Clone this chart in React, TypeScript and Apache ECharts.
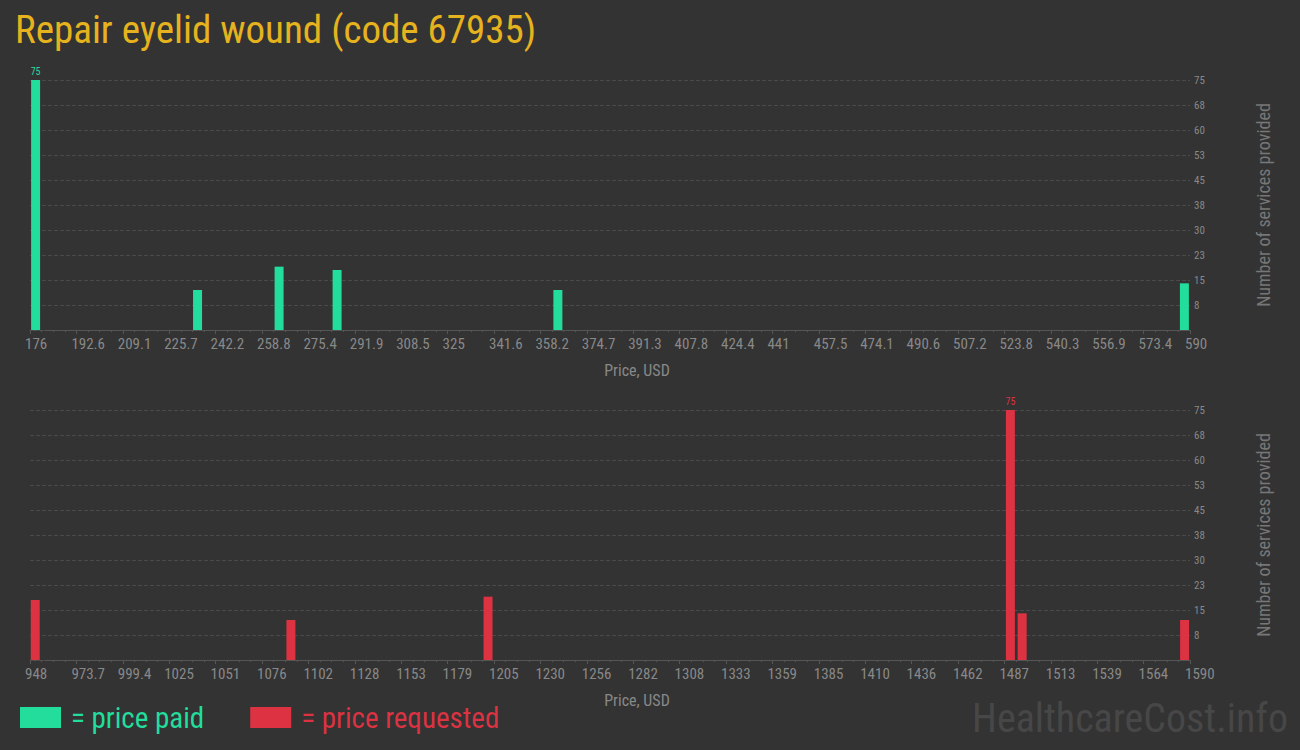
import React, { useEffect, useRef } from "react";
import * as echarts from "echarts";

const TITLE = "Repair eyelid wound (code 67935)";
const PAID_MIN = 176;
const PAID_MAX = 590;
const REQ_MIN = 948;
const REQ_MAX = 1590;
const TICK_COUNT = 25;
const Y_MAX = 75;
const Y_STEP = 7.5;

const paidPrices = [178, 235.8, 264.9, 285.6, 364.4, 588];
const paidCounts = [75, 12, 19, 18, 12, 14];
const requestedPrices = [950.9, 1092.4, 1201.5, 1490.6, 1497.1, 1587];
const requestedCounts = [18, 12, 19, 75, 14, 12];

const GREEN = "#22dd9b";
const RED = "#dc3242";
const FONT = "'Roboto Condensed', 'DejaVu Sans Condensed', 'Liberation Sans Narrow', Roboto, sans-serif";

function fmt(v: number) {
  return String(Number(v.toPrecision(4)));
}

function makeX(gridIndex: number, lo: number, hi: number) {
  return {
    gridIndex,
    type: "value",
    min: 0,
    max: hi - lo,
    interval: (hi - lo) / TICK_COUNT,
    axisLine: { show: true, lineStyle: { color: "#555" } },
    axisTick: { show: true, length: 4, lineStyle: { color: "#555" } },
    minorTick: { show: true, splitNumber: 4, length: 2, lineStyle: { color: "#555" } },
    splitLine: { show: false },
    axisLabel: {
      formatter: (v: number) => fmt(v + lo),
      color: "#888",
      fontSize: 15,
      fontFamily: FONT,
      align: "left",
      padding: [0, 0, 0, -5],
      margin: 6,
      showMaxLabel: true,
      showMinLabel: true,
      hideOverlap: false,
    },
    name: "Price, USD",
    nameLocation: "middle",
    nameGap: 32,
    nameTextStyle: { color: "#888", fontSize: 16, fontFamily: FONT, padding: [0, 0, 0, 54] },
  };
}

function makeY(gridIndex: number) {
  return {
    gridIndex,
    type: "value",
    position: "right",
    min: 0,
    max: Y_MAX,
    interval: Y_STEP,
    axisLine: { show: false },
    axisTick: { show: true, length: 15, lineStyle: { color: "#4a4a4a", type: "dashed" } },
    splitLine: { show: true, lineStyle: { color: "#4a4a4a", type: "dashed" } },
    axisLabel: {
      formatter: (v: number) => (v === 0 ? "" : String(Math.round(v))),
      color: "#888",
      fontSize: 11,
      fontFamily: FONT,
      margin: 4,
    },
    name: "Number of services provided",
    nameLocation: "middle",
    nameGap: 64,
    nameTextStyle: { color: "#777", fontSize: 18, fontFamily: FONT },
  };
}

function makeData(prices: number[], counts: number[], lo: number, color: string) {
  const maxC = Math.max(...counts);
  return prices.map((p, i) => ({
    value: [p - lo, counts[i]],
    label: {
      show: counts[i] === maxC,
      position: "top",
      distance: 4,
      color,
      fontSize: 10,
      fontFamily: FONT,
      formatter: () => String(counts[i]),
    },
  }));
}

export default function App() {
  const ref = useRef<HTMLDivElement>(null);
  useEffect(() => {
    if (!ref.current) return;
    const chart = echarts.init(ref.current, null, { renderer: "svg" });
    chart.setOption({
      animation: false,
      backgroundColor: "#333333",
      title: {
        text: TITLE,
        left: 10,
        top: 5,
        textStyle: { color: "#e6b31e", fontSize: 39, fontWeight: "normal", fontFamily: FONT },
      },
      legend: {
        left: 20,
        top: 703,
        padding: 0,
        itemWidth: 41,
        itemHeight: 21,
        itemGap: 46,
        icon: "rect",
        formatter: (n: string) => "= " + n,
        data: [
          { name: "price paid", textStyle: { color: GREEN } },
          { name: "price requested", textStyle: { color: RED } },
        ],
        textStyle: { fontSize: 29, fontFamily: FONT, padding: [0, 0, 0, 5] },
        selectedMode: false,
      },
      grid: [
        { left: 30, right: 110, top: 80, height: 250 },
        { left: 30, right: 110, top: 410, height: 250 },
      ],
      xAxis: [makeX(0, PAID_MIN, PAID_MAX), makeX(1, REQ_MIN, REQ_MAX)],
      yAxis: [makeY(0), makeY(1)],
      series: [
        {
          name: "price paid",
          type: "bar",
          xAxisIndex: 0,
          yAxisIndex: 0,
          barWidth: 9,
          itemStyle: { color: GREEN },
          data: makeData(paidPrices, paidCounts, PAID_MIN, GREEN),
        },
        {
          name: "price requested",
          type: "bar",
          xAxisIndex: 1,
          yAxisIndex: 1,
          barWidth: 9,
          itemStyle: { color: RED },
          data: makeData(requestedPrices, requestedCounts, REQ_MIN, RED),
        },
      ],
      graphic: [
        {
          type: "text",
          right: 12,
          top: 698,
          style: {
            text: "HealthcareCost.info",
            fill: "#474747",
            fontSize: 40,
            fontFamily: FONT,
          },
        },
      ],
    });
    return () => chart.dispose();
  }, []);
  return (
    <div
      ref={ref}
      style={{ position: "fixed", left: 0, top: 0, width: 1300, height: 750 }}
    />
  );
}
